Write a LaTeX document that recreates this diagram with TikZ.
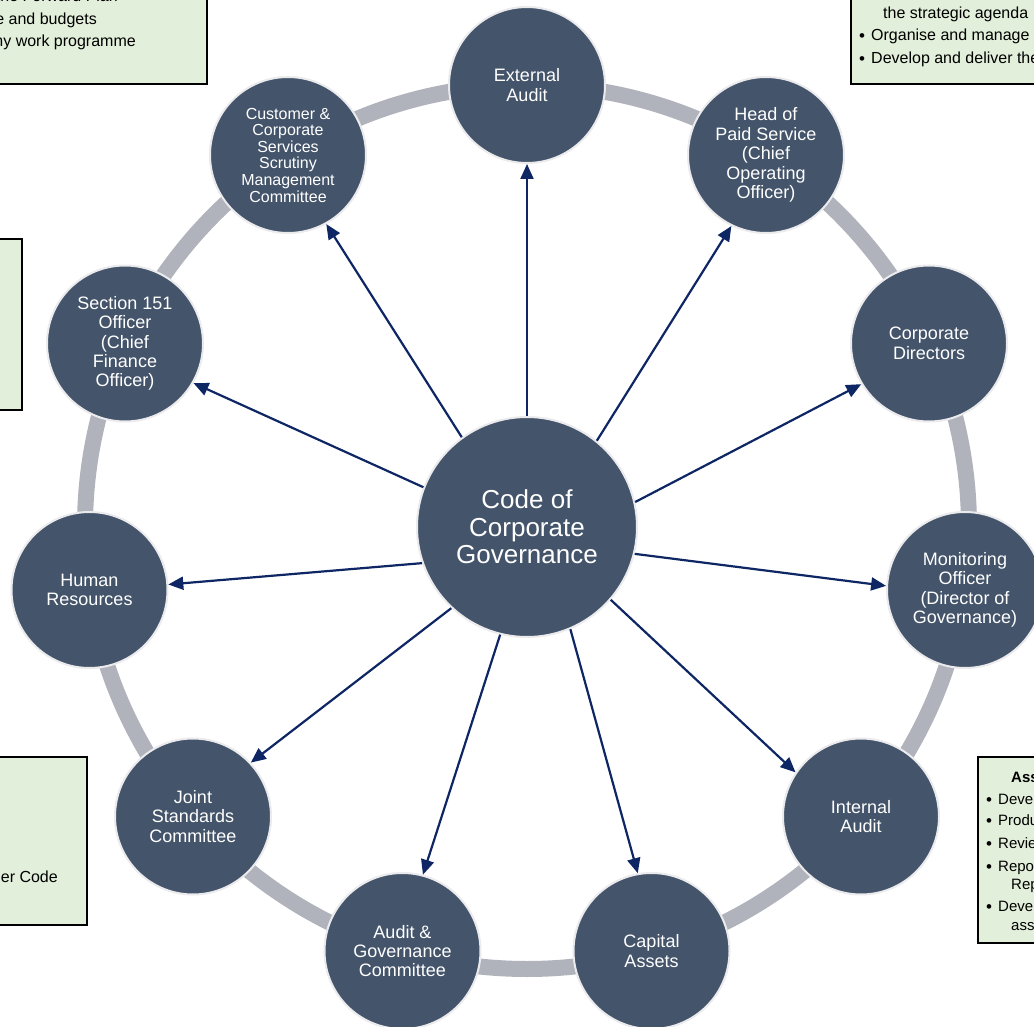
\documentclass[tikz,border=0pt]{standalone}
\usepackage{fontspec}
\setmainfont{Liberation Sans}
\usetikzlibrary{arrows.meta}
\definecolor{nodefill}{RGB}{68,84,106}
\definecolor{ringgray}{RGB}{176,179,187}
\definecolor{arrowblue}{RGB}{14,38,100}
\definecolor{boxgreen}{RGB}{226,239,218}
\definecolor{rimwhite}{RGB}{235,235,238}
\begin{document}
\begin{tikzpicture}[x=1pt,y=-1pt,
 outer/.style={circle, fill=nodefill, draw=rimwhite, line width=2pt, minimum size=156pt, inner sep=0pt, text=white, align=center, font=\fontsize{18}{19.4}\selectfont},
 hub/.style={outer, minimum size=220pt, font=\fontsize{26}{27.5}\selectfont},
 small/.style={font=\fontsize{16}{16.6}\selectfont},
 link/.style={draw=arrowblue, line width=2.2pt, -{Triangle[length=15pt,width=13pt]}},
 infobox/.style={draw=black, line width=1.5pt, fill=boxgreen},
 boxtext/.style={font=\fontsize{16}{18}\selectfont, inner sep=0pt, text=black},
 brtext/.style={font=\fontsize{15}{16}\selectfont, inner sep=0pt, text=black},
 dot/.style={font=\fontsize{17}{17}\selectfont, inner sep=0pt, text=black}
]
\useasboundingbox (0,0) rectangle (1034,1027);
\fill[white] (0,0) rectangle (1034,1027);

% info boxes (partly off the page)
\path[infobox] (-10,-10) rectangle (207,84);
\path[infobox] (851,-10) rectangle (1044,84);
\path[infobox] (-10,239) rectangle (22,410);
\path[infobox] (-10,757) rectangle (87,925);
\path[infobox] (978,757) rectangle (1044,943);

\node[boxtext, anchor=base east] (tl1) at (118,2) {the Forward Plan};
\node[boxtext, anchor=base east] (tl2) at (97,25) {e and budgets};
\node[boxtext, anchor=base east] (tl3) at (136,47) {ny work programme};

\node[boxtext, anchor=base west] (tr1) at (883,19) {the strategic agenda};
\node[dot, anchor=base west] (trd2) at (859,42) {•};
\node[boxtext, anchor=base west] (tr2) at (871,41) {Organise and manage};
\node[dot, anchor=base west] (trd3) at (859,65) {•};
\node[boxtext, anchor=base west] (tr3) at (871,64) {Develop and deliver the};

\node[boxtext, anchor=base east] (bl1) at (58,882) {er Code};

\node[brtext, anchor=base west, font=\fontsize{15}{16}\bfseries] (br0) at (1011,782) {Ass};
\node[dot, anchor=base west] (brd1) at (986,805) {•};
\node[brtext, anchor=base west] (br1) at (998,804) {Deve};
\node[dot, anchor=base west] (brd2) at (986,826) {•};
\node[brtext, anchor=base west] (br2) at (998,825) {Produ};
\node[dot, anchor=base west] (brd3) at (986,849) {•};
\node[brtext, anchor=base west] (br3) at (998,848) {Revie};
\node[dot, anchor=base west] (brd4) at (986,872) {•};
\node[brtext, anchor=base west] (br4) at (998,871) {Repo};
\node[brtext, anchor=base west] (br5) at (1011,889) {Rep};
\node[dot, anchor=base west] (brd6) at (986,912) {•};
\node[brtext, anchor=base west] (br6) at (998,911) {Deve};
\node[brtext, anchor=base west] (br7) at (1011,930) {ass};

% ring
\draw[ringgray, line width=16pt] (527,527) circle[radius=442];

% nodes
\node[hub] (C) at (527,527) {Code of\\Corporate\\Governance};
\node[outer] (ext) at (527,85) {External\\Audit};
\node[outer] (hps) at (766,155) {Head of\\Paid Service\\(Chief\\Operating\\Officer)};
\node[outer] (cd) at (929,343.5) {Corporate\\Directors};
\node[outer] (mo) at (965,590) {Monitoring\\Officer\\(Director of\\Governance)};
\node[outer] (ia) at (861,816.5) {Internal\\Audit};
\node[outer] (ca) at (651.5,951) {Capital\\Assets};
\node[outer] (ag) at (402.5,951) {Audit \&\\Governance\\Committee};
\node[outer] (js) at (193,816.5) {Joint\\Standards\\Committee};
\node[outer] (hr) at (89.5,590) {Human\\Resources};
\node[outer] (s151) at (125,343.5) {Section 151\\Officer\\(Chief\\Finance\\Officer)};
\node[outer, small] (ccs) at (288,155) {Customer \&\\Corporate\\Services\\Scrutiny\\Management\\Committee};

% connectors
\draw[link] (C.90) -- (ext.-90);
\draw[link] (C.51.5) -- (hps.-116);
\draw[link] (C.13.8) -- (cd.-149);
\draw[link] (C.-14.3) -- (mo.177);
\draw[link] (C.-41) -- (ia.146);
\draw[link] (C.-67) -- (ca.100.6);
\draw[link] (C.-104.7) -- (ag.75.4);
\draw[link] (C.-133) -- (js.43);
\draw[link] (C.-161) -- (hr.4);
\draw[link] (C.159.4) -- (s151.-30);
\draw[link] (C.126.9) -- (ccs.-61);
\end{tikzpicture}
\end{document}
